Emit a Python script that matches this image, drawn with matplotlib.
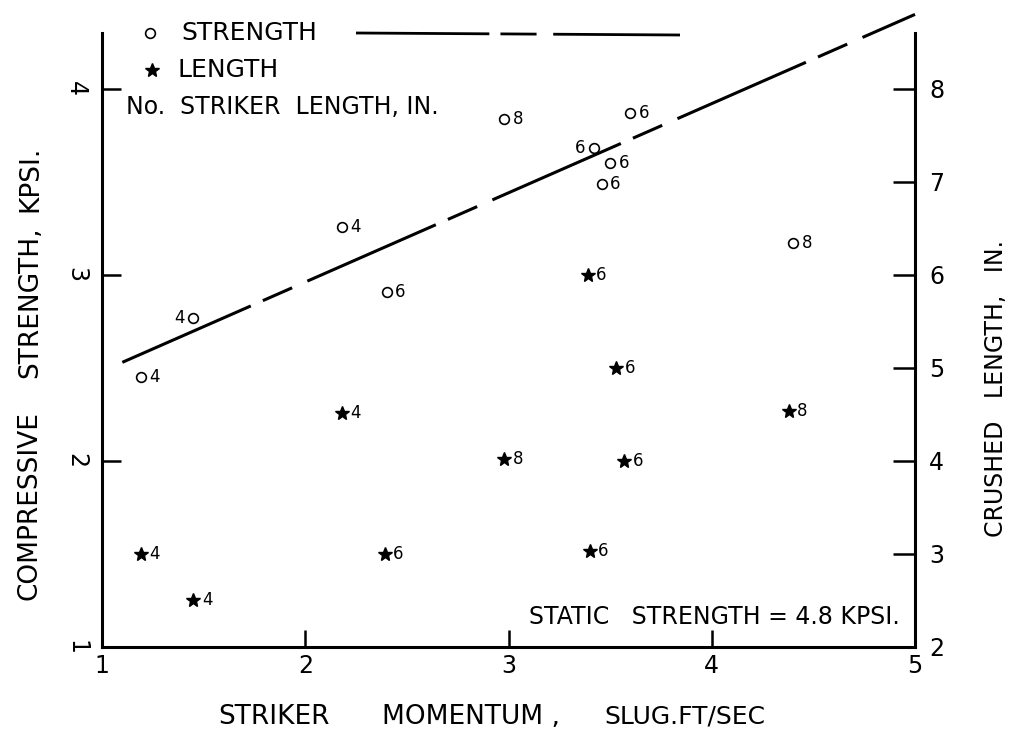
import matplotlib
matplotlib.use("Agg")
import matplotlib.pyplot as plt

plt.rcParams['font.family'] = ['DejaVu Sans']
plt.rcParams['lines.scale_dashes'] = False

# strength points (left axis, kpsi) and striker length number beside each
strength_x = [1.19, 1.45, 2.18, 2.40, 2.98, 3.60, 3.42, 3.50, 3.46, 4.40]
strength_y = [2.45, 2.77, 3.26, 2.91, 3.84, 3.87, 3.68, 3.60, 3.49, 3.17]
strength_no = ['4', '4', '4', '6', '8', '6', '6', '6', '6', '8']
strength_left = [False, True, False, False, False, False, True, False, False, False]

# crushed length points (right axis, in.)
length_x = [1.19, 1.45, 2.18, 2.39, 2.98, 3.57, 3.40, 4.38, 3.39, 3.53]
length_y = [3.00, 2.50, 4.51, 3.00, 4.02, 4.00, 3.03, 4.54, 6.00, 5.00]
length_no = ['4', '4', '4', '6', '8', '6', '6', '8', '6', '6']

# faired strength curve
fit_x = [1.10, 5.00]
fit_y = [2.53, 4.40]

x_ticks = [1, 2, 3, 4, 5]
left_ticks = [1, 2, 3, 4]
right_ticks = [2, 3, 4, 5, 6, 7, 8]

fig = plt.figure(figsize=(10.16, 7.36), dpi=100)
ax = fig.add_axes([102/1016, 89/736, 813/1016, 614/736])
ax2 = ax.twinx()

ax.set_xlim(1, 5)
ax.set_ylim(1, 4.30)
ax2.set_ylim(2, 8.60)

for a in (ax, ax2):
    a.spines['top'].set_visible(False)
    for s in ('left', 'right', 'bottom'):
        a.spines[s].set_linewidth(2.2)
ax.spines['right'].set_visible(False)
ax2.spines['left'].set_visible(False)
ax2.spines['bottom'].set_visible(False)

ax.set_xticks(x_ticks)
ax.set_xticklabels([str(v) for v in x_ticks])
ax.set_yticks(left_ticks)
ax.set_yticklabels([str(v) for v in left_ticks], rotation=-90, va='center')
ax2.set_yticks(right_ticks)
ax2.set_yticklabels([str(v) for v in right_ticks])

ax.tick_params(axis='x', direction='in', length=12, width=1.8, pad=5, labelsize=17)
ax.tick_params(axis='y', direction='in', length=14, width=1.8, pad=10, labelsize=17)
ax2.tick_params(axis='y', direction='in', length=16, width=1.8, pad=10, labelsize=17)

# curve
line, = ax.plot(fit_x, fit_y, color='black', lw=2.2, clip_on=False)
line.set_dashes([101, 9.5, 23, 12])

# strength circles
ax.plot(strength_x, strength_y, 'o', ms=7, mfc='white', mec='black', mew=1.2, ls='none')
for x, y, n, left in zip(strength_x, strength_y, strength_no, strength_left):
    if left:
        ax.annotate(n, (x, y), xytext=(-6, 0), textcoords='offset points',
                    ha='right', va='center', fontsize=12)
    else:
        ax.annotate(n, (x, y), xytext=(6, 0), textcoords='offset points',
                    ha='left', va='center', fontsize=12)

# length stars
ax2.plot(length_x, length_y, '*', ms=10, color='black', ls='none')
for x, y, n in zip(length_x, length_y, length_no):
    ax2.annotate(n, (x, y), xytext=(6, 0), textcoords='offset points',
                 ha='left', va='center', fontsize=12)


def fx(px):
    return px / 1016


def fy(py):
    return 1 - py / 736


# legend, drawn by hand like the original
fig.lines.append(plt.Line2D([fx(150)], [fy(33)], marker='o', ms=7, mfc='white',
                            mec='black', mew=1.2, transform=fig.transFigure))
fig.text(fx(181), fy(33), 'STRENGTH', fontsize=18, va='center')
fig.lines.append(plt.Line2D([fx(152)], [fy(70)], marker='*', ms=10, color='black',
                            transform=fig.transFigure))
fig.text(fx(177), fy(70), 'LENGTH', fontsize=18, va='center')
fig.text(fx(126), fy(107), 'No.  STRIKER  LENGTH, IN.', fontsize=17, va='center')
leg_line = plt.Line2D([fx(356), fx(680)], [fy(33), fy(35)], color='black', lw=2,
                      transform=fig.transFigure)
leg_line.set_dashes([96, 8, 26, 12])
fig.lines.append(leg_line)

fig.text(fx(900), fy(617), 'STATIC   STRENGTH = 4.8 KPSI.', fontsize=17,
         ha='right', va='center')

# axis titles, placed word by word as lettered on the drawing
fig.text(fx(218), fy(717), 'STRIKER', fontsize=19, ha='left', va='center')
fig.text(fx(382), fy(717), 'MOMENTUM ,', fontsize=19, ha='left', va='center')
fig.text(fx(604), fy(717), 'SLUG.FT/SEC', fontsize=18, ha='left', va='center')

fig.text(fx(30), fy(600), 'COMPRESSIVE', fontsize=19, rotation=90,
         ha='center', va='bottom')
fig.text(fx(30), fy(378), 'STRENGTH,', fontsize=19, rotation=90,
         ha='center', va='bottom')
fig.text(fx(30), fy(212), 'KPSI.', fontsize=19, rotation=90,
         ha='center', va='bottom')

fig.text(fx(996), fy(537), 'CRUSHED   LENGTH,   IN.', fontsize=17,
         rotation=90, ha='center', va='bottom')

fig.savefig('out.png', dpi=100, facecolor='white')
